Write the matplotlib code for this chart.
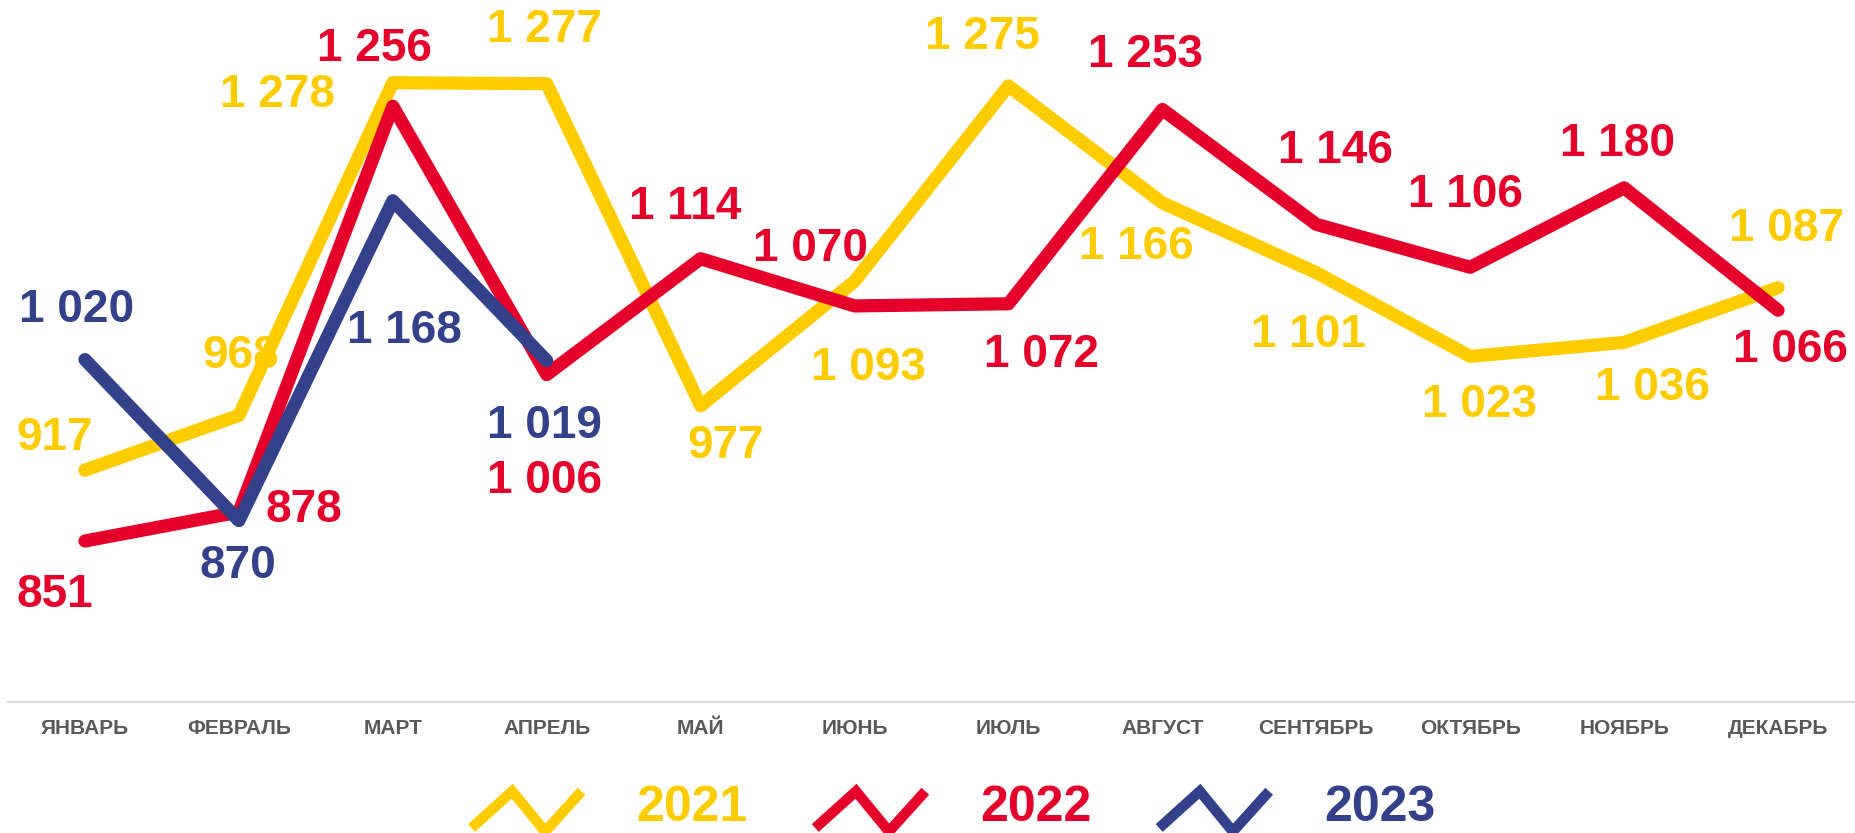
import numpy as np
import matplotlib
matplotlib.use("Agg")
import matplotlib.pyplot as plt
from matplotlib.lines import Line2D
from matplotlib.legend_handler import HandlerLine2D

plt.rcParams['font.family'] = ['Liberation Sans', 'DejaVu Sans']

months = ['ЯНВАРЬ', 'ФЕВРАЛЬ', 'МАРТ', 'АПРЕЛЬ', 'МАЙ', 'ИЮНЬ',
          'ИЮЛЬ', 'АВГУСТ', 'СЕНТЯБРЬ', 'ОКТЯБРЬ', 'НОЯБРЬ', 'ДЕКАБРЬ']
v2021 = [917, 968, 1278, 1277, 977, 1093, 1275, 1166, 1101, 1023, 1036, 1087]
v2022 = [851, 878, 1256, 1006, 1114, 1070, 1072, 1253, 1146, 1106, 1180, 1066]
v2023 = [1020, 870, 1168, 1019]

# label offsets in pixels (dx, dy) relative to each point
off2021 = [(-30, 32), (2, 59), (-115, -12), (-2, 54), (25, -40), (14, -87),
           (-26, 49), (-26, -44), (-8, -62), (9, -49), (28, -46), (8, 59)]
off2022 = [(-30, -54), (65, 2), (-18, 57), (-2, -106), (-15, 52), (-44, 57),
           (33, -51), (-17, 54), (19, 73), (-5, 72), (-7, 44), (12, -40)]
off2023 = [(-8, 50), (-1, -45), (12, -130), (-2, -65)]

series = [
    ('2021', v2021, off2021, '#FFCC00'),
    ('2022', v2022, off2022, '#E4002B'),
    ('2023', v2023, off2023, '#33418A'),
]


def fmt(v):
    return f'{v:,}'.replace(',', ' ')


class ZigzagHandler(HandlerLine2D):
    def create_artists(self, legend, orig_handle, xdescent, ydescent,
                       width, height, fontsize, trans):
        xs = np.array([0, 0.37, 0.67, 1.0]) * width - xdescent
        ys = np.array([-0.2, 0.85, -0.3, 0.85]) * height - ydescent
        line = Line2D(xs, ys, color=orig_handle.get_color(), linewidth=7.5,
                      solid_capstyle='butt', solid_joinstyle='miter')
        line.set_transform(trans)
        return [line]


fig = plt.figure(figsize=(18.55, 8.33), dpi=100)
ax = fig.add_axes([8 / 1855, 1 - 702 / 833, 1 - 8 / 1855, 702 / 833])

handles = []
for name, vals, offs, color in series:
    x = np.arange(len(vals))
    ln, = ax.plot(x, vals, color=color, linewidth=9.5,
                  solid_capstyle='round', solid_joinstyle='round', label=name)
    handles.append(ln)
    for xi, v, (dx, dy) in zip(x, vals, offs):
        ax.annotate(fmt(v), (xi, v), xytext=(dx, dy), textcoords='offset pixels',
                    ha='center', va='center', fontsize=33, fontweight='bold',
                    color=color, annotation_clip=False)

ax.set_xlim(-0.5, 11.5)
ax.set_ylim(701, 1355)
ax.set_xticks(range(12))
ax.set_xticklabels(months, fontsize=15, fontweight='bold', color='#595959')
ax.tick_params(axis='x', length=0, pad=12)
ax.set_yticks([])
for s in ['top', 'right', 'left']:
    ax.spines[s].set_visible(False)
ax.spines['bottom'].set_color('#D9D9D9')
ax.spines['bottom'].set_linewidth(1.5)
ax.patch.set_visible(False)

leg = fig.legend(handles=handles, loc='center', bbox_to_anchor=(0.514, 0.030),
                 ncol=3, frameon=False, fontsize=36, handlelength=2.2,
                 handletextpad=1.1, columnspacing=1.35,
                 handler_map={Line2D: ZigzagHandler()})
for t, (_, _, _, color) in zip(leg.get_texts(), series):
    t.set_color(color)
    t.set_fontweight('bold')

fig.savefig('out.png', dpi=100)
